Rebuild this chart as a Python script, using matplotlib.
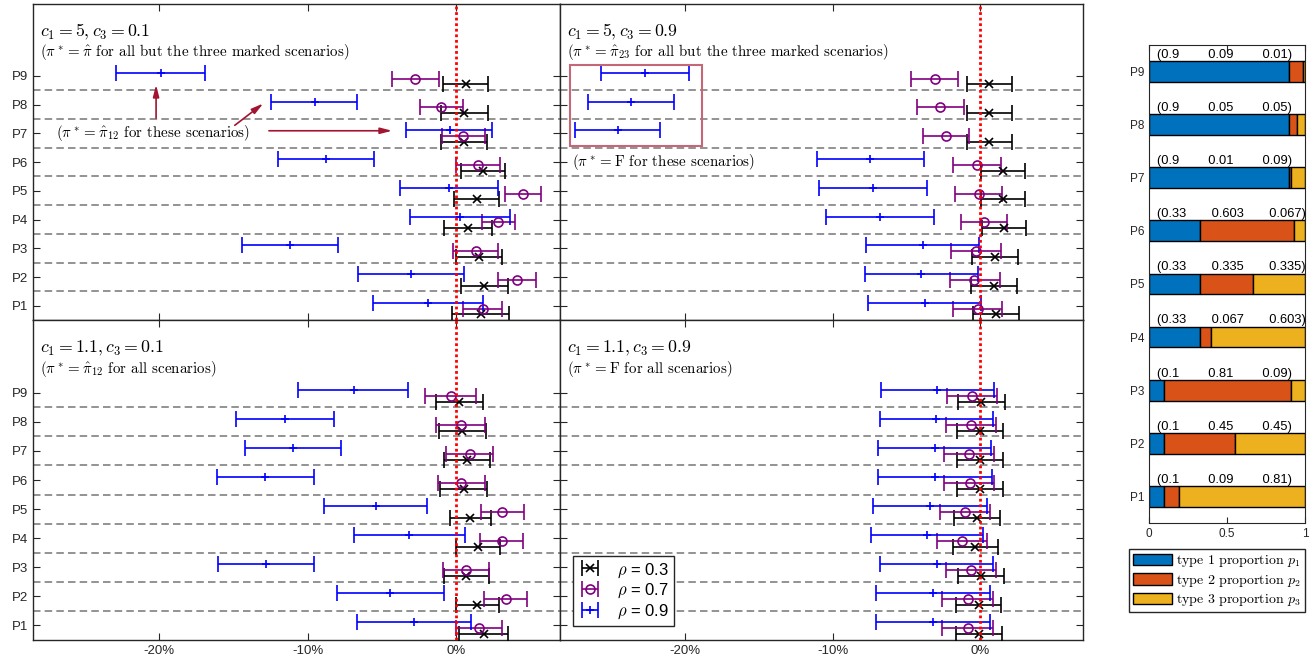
import matplotlib.pyplot as plt
from matplotlib.patches import Rectangle
import numpy as np

plt.rcParams['mathtext.fontset'] = 'cm'
plt.rcParams['font.family'] = ['Liberation Sans', 'DejaVu Sans']

scenarios = ['P1', 'P2', 'P3', 'P4', 'P5', 'P6', 'P7', 'P8', 'P9']
rho_values = ['0.3', '0.7', '0.9']
xtick_values = [-20, -10, 0]
xtick_labels = ['-20%', '-10%', '0%']

# relative difference in percent, (lower, estimate, upper) for P1 ... P9
# c1 = 5, c3 = 0.1
tl_rho03 = [(-0.25, 1.68, 3.59), (0.3, 1.91, 3.48), (0.02, 1.52, 3.11), (-0.84, 0.8, 2.45), (-0.14, 1.39, 2.91),
            (0.36, 1.84, 3.32), (-0.98, 0.52, 2.07), (-0.98, 0.55, 2.14), (-0.91, 0.66, 2.18)]
tl_rho07 = [(0.5, 1.82, 3.07), (2.8, 4.09, 5.39), (-0.18, 1.34, 2.84), (1.77, 2.84, 3.95), (3.27, 4.5, 5.7),
            (0.0, 1.5, 2.95), (-0.95, 0.5, 1.93), (-2.45, -1.02, 0.48), (-4.3, -2.75, -1.14)]
tl_rho09 = [(-5.59, -1.89, 1.84), (-6.57, -3.02, 0.55), (-14.43, -11.2, -7.95), (-3.09, 0.27, 3.64),
            (-3.75, -0.45, 2.84), (-12.02, -8.77, -5.55), (-3.39, -0.43, 2.45), (-12.48, -9.52, -6.64),
            (-22.9, -19.9, -16.9)]

# c1 = 5, c3 = 0.9
tr_rho03 = [(-0.45, 1.07, 2.64), (-0.59, 0.95, 2.52), (-0.52, 1.0, 2.59), (0.16, 1.64, 3.11), (0.09, 1.57, 3.05),
            (0.09, 1.57, 3.05), (-0.89, 0.64, 2.18), (-0.91, 0.61, 2.16), (-0.91, 0.61, 2.16)]
tr_rho07 = [(-1.82, -0.14, 1.52), (-2.05, -0.39, 1.32), (-1.95, -0.3, 1.41), (-1.32, 0.27, 1.86),
            (-1.68, -0.09, 1.52), (-1.82, -0.23, 1.41), (-3.86, -2.3, -0.73), (-4.27, -2.7, -1.11),
            (-4.66, -3.09, -1.5)]
tr_rho09 = [(-7.57, -3.75, 0.05), (-7.82, -4.0, -0.16), (-7.73, -3.89, -0.09), (-10.48, -6.82, -3.14),
            (-10.93, -7.27, -3.61), (-11.09, -7.45, -3.82), (-27.5, -24.59, -21.7), (-26.59, -23.68, -20.75),
            (-25.75, -22.75, -19.77)]

# c1 = 1.1, c3 = 0.1
bl_rho03 = [(0.23, 1.86, 3.5), (-0.02, 1.43, 2.89), (-0.82, 0.7, 2.25), (-0.02, 1.48, 2.98), (-0.43, 0.93, 2.34),
            (-1.05, 0.52, 2.07), (-0.82, 0.73, 2.27), (-1.14, 0.43, 2.0), (-1.36, 0.23, 1.8)]
bl_rho07 = [(0.0, 1.55, 3.07), (1.89, 3.34, 4.77), (-0.86, 0.68, 2.25), (1.61, 3.07, 4.52), (1.66, 3.11, 4.55),
            (-1.23, 0.34, 1.95), (-0.68, 0.91, 2.48), (-1.36, 0.3, 1.93), (-2.09, -0.36, 1.36)]
bl_rho09 = [(-6.68, -2.8, 1.0), (-8.05, -4.43, -0.82), (-16.02, -12.8, -9.55), (-6.86, -3.16, 0.57),
            (-8.89, -5.41, -1.93), (-16.09, -12.84, -9.59), (-14.23, -10.98, -7.73), (-14.84, -11.55, -8.23),
            (-10.61, -6.89, -3.23)]

# c1 = 1.1, c3 = 0.9
br_rho03 = [(-1.66, -0.09, 1.48), (-1.66, -0.09, 1.45), (-1.5, 0.05, 1.61), (-1.86, -0.32, 1.23),
            (-1.75, -0.23, 1.34), (-1.59, -0.02, 1.55), (-1.59, -0.02, 1.55), (-1.55, 0.0, 1.59),
            (-1.48, 0.07, 1.66)]
br_rho07 = [(-2.55, -0.82, 0.89), (-2.57, -0.84, 0.89), (-2.32, -0.61, 1.09), (-2.91, -1.2, 0.5),
            (-2.73, -1.05, 0.68), (-2.43, -0.7, 0.98), (-2.43, -0.73, 0.98), (-2.34, -0.61, 1.07),
            (-2.25, -0.52, 1.18)]
br_rho09 = [(-7.05, -3.18, 0.7), (-7.05, -3.18, 0.66), (-6.82, -2.95, 0.91), (-7.41, -3.61, 0.23),
            (-7.25, -3.41, 0.45), (-6.91, -3.07, 0.8), (-6.93, -3.09, 0.77), (-6.82, -2.98, 0.86),
            (-6.75, -2.89, 0.98)]

# type proportions per scenario
p1 = [0.1, 0.1, 0.1, 0.33, 0.33, 0.33, 0.9, 0.9, 0.9]
p2 = [0.09, 0.45, 0.81, 0.067, 0.335, 0.603, 0.01, 0.05, 0.09]
p3 = [0.81, 0.45, 0.09, 0.603, 0.335, 0.067, 0.09, 0.05, 0.01]

AXCOL = '#262626'
MAROON = '#A2142F'
series_colors = ['black', '#800080', 'blue']
series_markers = ['x', 'o', '+']
series_offsets = [-0.3, -0.1, 0.1]
bar_colors = ['#0072BD', '#D95319', '#EDB120']
CM = 'cmr10'

fig = plt.figure(figsize=(13.13, 6.63), dpi=100)

L, M, R = 0.025, 0.4265, 0.825
B, H, T = 0.035, 0.517, 0.994
ax_tl = fig.add_axes([L, H, M - L, T - H])
ax_tr = fig.add_axes([M, H, R - M, T - H])
ax_bl = fig.add_axes([L, B, M - L, H - B])
ax_br = fig.add_axes([M, B, R - M, H - B])


def draw_panel(ax, series, title, subtitle, ylabels, xlabels):
    y = np.arange(1, len(scenarios) + 1)
    for k in y[:-1]:
        ax.axhline(k + 0.5, color='#808080', lw=1.2, ls=(0, (4.5, 2.5)), zorder=1)
    for data, col, mk, off, rho in zip(series, series_colors, series_markers, series_offsets, rho_values):
        arr = np.array(data)
        lo, mid, hi = arr[:, 0], arr[:, 1], arr[:, 2]
        ax.errorbar(mid, y + off, xerr=[mid - lo, hi - mid], fmt=mk, color=col, mfc='none',
                    ms=6.5 if mk == 'o' else 5.5, mew=1.2, elinewidth=1.2, capsize=6, capthick=1.2,
                    label=r'$\rho$ = ' + rho, zorder=3)
    ax.axvline(0, color='red', lw=2, ls=(0, (1, 1)), zorder=4)
    ax.set_xlim(-28.5, 7)
    ax.set_ylim(0.5, 11.5)
    ax.set_xticks(xtick_values)
    ax.set_xticklabels(xtick_labels if xlabels else [])
    ax.set_yticks(y)
    ax.set_yticklabels(scenarios if ylabels else [])
    ax.tick_params(direction='in', top=True, right=True, length=5, labelsize=9.5, colors=AXCOL)
    for s in ax.spines.values():
        s.set_color(AXCOL)
        s.set_linewidth(1)
    ax.text(-28, 10.52, title, fontsize=12.8, va='center', family=CM)
    ax.text(-28, 9.82, subtitle, fontsize=10.8, va='center', family=CM)


draw_panel(ax_tl, [tl_rho03, tl_rho07, tl_rho09], r'$c_1 = 5, c_3 = 0.1$',
           r'($\pi^* = \hat{\pi}$ for all but the three marked scenarios)', True, False)
draw_panel(ax_tr, [tr_rho03, tr_rho07, tr_rho09], r'$c_1 = 5, c_3 = 0.9$',
           r'($\pi^* = \hat{\pi}_{23}$ for all but the three marked scenarios)', False, False)
draw_panel(ax_bl, [bl_rho03, bl_rho07, bl_rho09], r'$c_1 = 1.1, c_3 = 0.1$',
           r'($\pi^* = \hat{\pi}_{12}$ for all scenarios)', True, True)
draw_panel(ax_br, [br_rho03, br_rho07, br_rho09], r'$c_1 = 1.1, c_3 = 0.9$',
           r'($\pi^* = \mathrm{F}$ for all scenarios)', False, True)

# arrows to the three pi_12 scenarios in the upper-left panel
arrow = dict(arrowstyle='-|>,head_length=0.7,head_width=0.18', color=MAROON, lw=1.2, shrinkA=0, shrinkB=0)
ax_tl.annotate('', xy=(-20.2, 8.69), xytext=(-20.2, 7.53), arrowprops=arrow)
ax_tl.annotate('', xy=(-12.98, 8.04), xytext=(-14.9, 7.28), arrowprops=arrow)
ax_tl.annotate('', xy=(-4.3, 7.09), xytext=(-12.6, 7.09), arrowprops=arrow)
ax_tl.text(-26.95, 7.0, r'($\pi^* = \hat{\pi}_{12}$ for these scenarios)', fontsize=10.8, va='center', family=CM)

# box round the three F scenarios in the upper-right panel
ax_tr.add_patch(Rectangle((-27.84, 6.56), 8.98, 2.81, fill=False, edgecolor='#C46878', lw=1.5, zorder=5))
ax_tr.text(-27.68, 6.0, r'($\pi^* = \mathrm{F}$ for these scenarios)', fontsize=10.8, va='center', family=CM)

leg = ax_br.legend(loc='lower left', fontsize=12, handlelength=1.4, handletextpad=0.9, labelspacing=0.15,
                   borderpad=0.3, borderaxespad=0.8, fancybox=False, framealpha=1, edgecolor=AXCOL)
leg.get_frame().set_linewidth(1)

# stacked proportions of the three types
axb = fig.add_axes([0.875, 0.2112, 0.1188, 0.721])
yb = np.arange(1, len(scenarios) + 1)
left = np.zeros(len(scenarios))
labels = [r'type 1 proportion $p_1$', r'type 2 proportion $p_2$', r'type 3 proportion $p_3$']
for vals, col, lab in zip([p1, p2, p3], bar_colors, labels):
    axb.barh(yb, vals, left=left, height=0.39, color=col, edgecolor='black', lw=1, label=lab, zorder=2)
    left += np.array(vals)
for yi, a, b, c in zip(yb, p1, p2, p3):
    s = '(' + f'{a:g}'.ljust(11) + f'{b:g}'.ljust(12) + f'{c:g}' + ')'
    axb.text(0.05, yi + 0.2, s, fontsize=9.3, va='bottom', ha='left', color='black')
axb.set_xlim(0, 1)
axb.set_ylim(0.5, 9.5)
axb.set_xticks([0, 0.5, 1])
axb.set_xticklabels(['0', '0.5', '1'])
axb.set_yticks(yb)
axb.set_yticklabels(scenarios)
axb.tick_params(direction='in', top=True, right=True, length=4, labelsize=8.5, colors=AXCOL)
for s in axb.spines.values():
    s.set_color(AXCOL)

fig.legend(*axb.get_legend_handles_labels(), loc='upper right', bbox_to_anchor=(0.9939, 0.172),
           prop={'family': CM, 'size': 10}, handlelength=2.8, handleheight=0.9, handletextpad=0.3,
           labelspacing=0.25, borderpad=0.3, borderaxespad=0, fancybox=False, framealpha=1, edgecolor=AXCOL)

fig.savefig('out.png', dpi=100)
